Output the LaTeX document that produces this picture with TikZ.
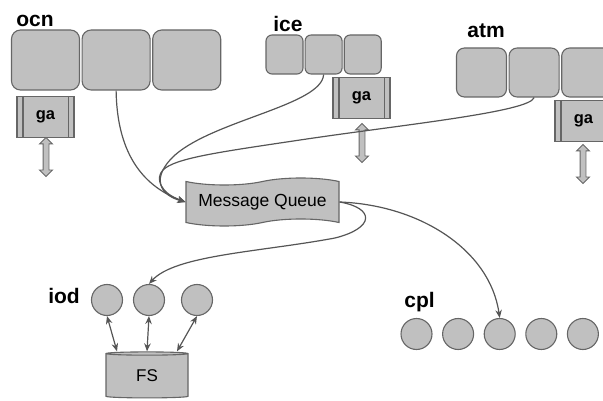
\documentclass[tikz,border=0pt]{standalone}
\usepackage{fontspec}
\setmainfont{Liberation Sans}
\usetikzlibrary{positioning,shapes.symbols,shapes.arrows,shapes.geometric,arrows.meta}
\definecolor{boxgray}{HTML}{C0C0C0}
\definecolor{edgegray}{HTML}{666666}
\definecolor{wiregray}{HTML}{555555}

\begin{document}
\begin{tikzpicture}[x=1pt, y=-1pt, >={Stealth[length=8pt,width=6.5pt]},
  lbl/.style={font=\fontsize{21}{23}\selectfont\bfseries, inner sep=0pt, anchor=base},
  seg/.style={draw=edgegray, fill=boxgray, line width=1.1pt, inner sep=0pt},
  ocnbox/.style={seg, rounded corners=9pt, minimum width=68pt, minimum height=60pt},
  icebox/.style={seg, rounded corners=6pt, minimum width=37pt, minimum height=39pt},
  atmbox/.style={seg, rounded corners=8pt, minimum width=50pt, minimum height=49pt},
  gabox/.style={seg, minimum width=57pt, minimum height=41pt, font=\fontsize{16.5}{18}\selectfont\bfseries},
  dbl/.style={double arrow, shape border rotate=90, draw=edgegray, fill=boxgray, line width=0.9pt,
    minimum height=39pt, minimum width=12pt, inner sep=2.5pt, double arrow head extend=3.5pt},
  queue/.style={tape, draw=edgegray, fill=boxgray, line width=1.1pt, minimum width=153pt, minimum height=48pt,
    inner sep=2pt, tape bend height=7pt, font=\fontsize{17.5}{19}\selectfont},
  store/.style={cylinder, shape border rotate=90, aspect=0.15, draw=edgegray, fill=boxgray, line width=1.1pt,
    minimum width=82pt, minimum height=46pt, inner sep=0pt, font=\fontsize{17}{19}\selectfont},
  dot/.style={circle, draw=edgegray, fill=boxgray, line width=1.1pt, minimum size=31pt, inner sep=0pt},
  wire/.style={draw=wiregray, line width=1.2pt}]
  \useasboundingbox (0,0) rectangle (603,401);
  \clip (0,0) rectangle (603,401);

  % components
  \node[lbl] (ocnl) at (35,27) {ocn};
  \node[ocnbox] (ocn1) at (45.5,60) {};
  \node[ocnbox, right=1.5pt of ocn1] (ocn2) {};
  \node[ocnbox, right=1.5pt of ocn2] (ocn3) {};
  \node[gabox] (oga) at (45.5,117) {ga};
  \node[dbl] (oar) at (46,157) {};

  \node[lbl] (icel) at (288,32) {ice};
  \node[icebox] (ice1) at (284.5,54.5) {};
  \node[icebox, right=1pt of ice1] (ice2) {};
  \node[icebox, right=1pt of ice2] (ice3) {};
  \node[gabox] (iga) at (361.5,98) {ga};
  \node[dbl] (iar) at (362,143) {};

  \node[lbl] (atml) at (486,38) {atm};
  \node[atmbox] (atm1) at (481.5,72.5) {};
  \node[atmbox, right=1.5pt of atm1] (atm2) {};
  \node[atmbox, right=1.5pt of atm2] (atm3) {};
  \node[gabox] (aga) at (583.5,121) {ga};
  \node[dbl] (aar) at (583,164) {};

  \foreach \g in {oga,iga,aga}
    \draw[edgegray, line width=1.1pt] ([xshift=6.5pt]\g.north west) -- ([xshift=6.5pt]\g.south west)
      ([xshift=-6.5pt]\g.north east) -- ([xshift=-6.5pt]\g.south east);

  \node[queue] (mq) at (262.5,202) {Message Queue};

  % io and coupler
  \node[lbl] (iodl) at (64,303) {iod};
  \node[dot] (iod1) at (107,300) {};
  \node[dot] (iod2) at (149,300) {};
  \node[dot] (iod3) at (197,300) {};
  \node[store] (fs) at (147,376) {FS};

  \node[lbl] (cpll) at (419.5,307) {cpl};
  \node[dot] (cpl1) at (416.5,334) {};
  \foreach \i [count=\j from 2] in {1,...,4}
    \node[dot, right=9.5pt of cpl\i] (cpl\j) {};

  % messages
  \draw[wire,->] (ocn2.south) .. controls (117,150) and (140,185) .. (mq.west);
  \draw[wire,->] (ice2.south) .. controls (322,105) and (215,120) .. (175,155)
    .. controls (150,178) and (160,195) .. (mq.west);
  \draw[wire,->] (atm2.south) .. controls (530,112) and (400,125) .. (300,140)
    .. controls (220,152) and (175,158) .. (163,170)
    .. controls (155,178) and (160,193) .. (mq.west);
  \draw[wire,->] (mq.east) .. controls (420,205) and (490,250) .. (cpl3.north);
  \draw[wire,->] (mq.east) .. controls (375,208) and (375,228) .. (335,238)
    .. controls (260,252) and (175,255) .. (iod2.north);

  \draw[wire,<->] (iod1.south) -- ([xshift=-30pt]fs.north);
  \draw[wire,<->] (iod2.south) -- (fs.north);
  \draw[wire,<->] (iod3.south) -- ([xshift=30pt]fs.north);
\end{tikzpicture}
\end{document}
